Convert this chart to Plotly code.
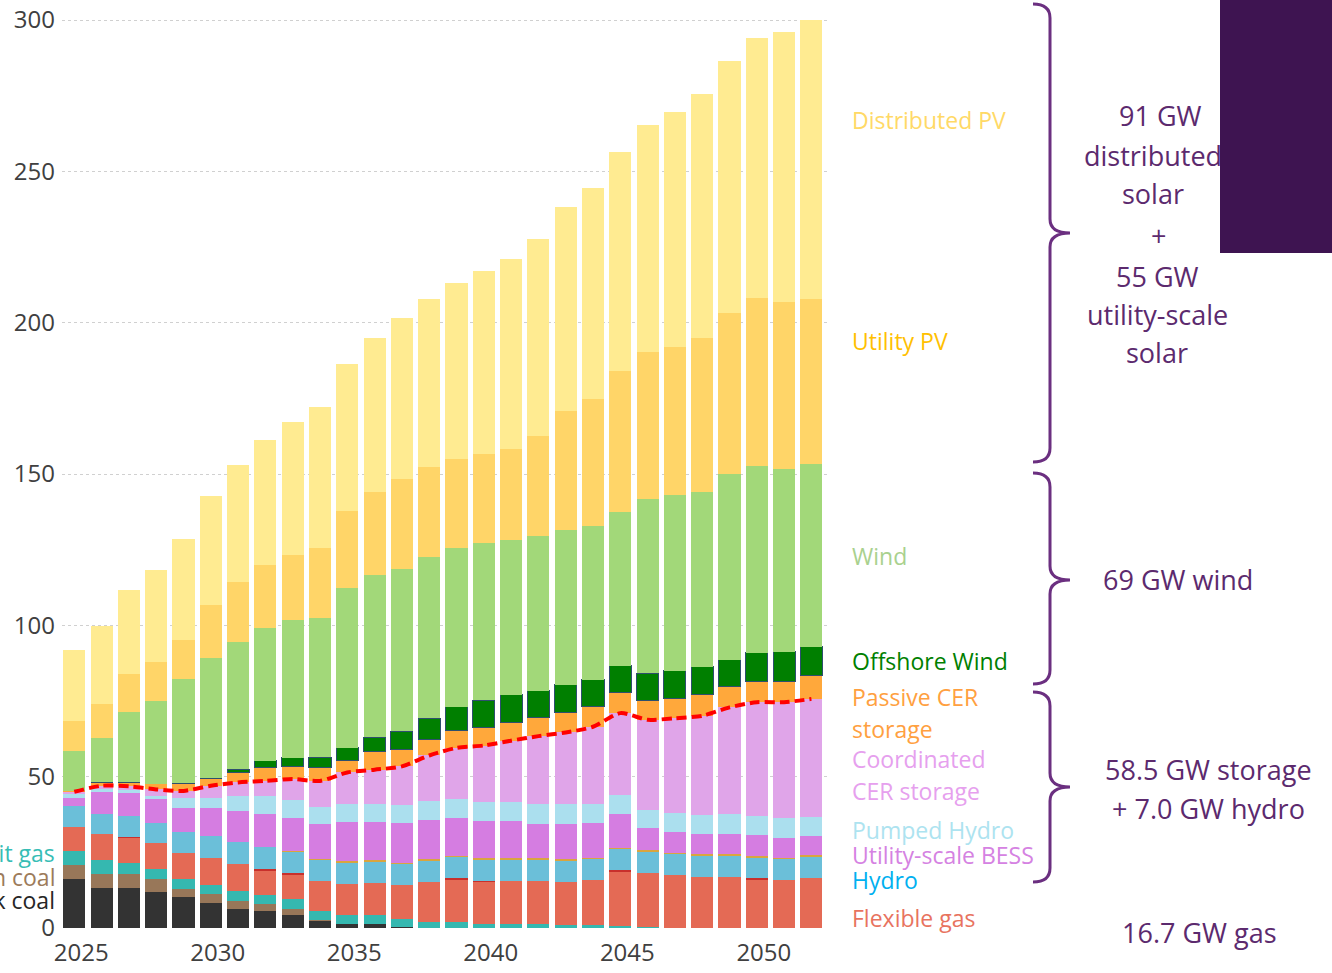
import numpy as np
import plotly.graph_objects as go

# Installed capacity (GW) by technology, 2025-2052
years = list(range(2025, 2053))

black_coal = [16.1, 13.3, 13.2, 11.9, 10.3, 8.1, 6.4, 5.5, 4.2, 2.6, 1.2, 1.2, 0.4, 0, 0, 0, 0, 0, 0, 0, 0, 0, 0, 0, 0, 0, 0, 0]
brown_coal = [4.7, 4.7, 4.8, 4.4, 2.7, 3.0, 2.5, 2.3, 2.2, 0.2, 0, 0, 0, 0, 0, 0, 0, 0, 0, 0, 0, 0, 0, 0, 0, 0, 0, 0]
mid_merit_gas = [4.6, 4.5, 3.4, 3.1, 3.3, 3.1, 3.4, 3.1, 3.3, 2.8, 3.0, 3.0, 2.6, 1.9, 1.9, 1.2, 1.2, 1.2, 0.9, 0.9, 0.8, 0.3, 0, 0, 0, 0, 0, 0]
flexible_gas = [8.1, 8.4, 8.5, 8.6, 8.6, 8.9, 8.7, 8.2, 8.1, 9.9, 10.3, 10.6, 11.2, 13.4, 14.2, 14.0, 14.3, 14.3, 14.3, 14.8, 18.0, 18.0, 17.5, 16.8, 16.8, 16.1, 15.8, 16.6]
peaking_gas = [0, 0, 0.3, 0, 0, 0, 0, 0.3, 0.3, 0, 0, 0, 0, 0, 0.3, 0.3, 0, 0, 0, 0, 0.3, 0, 0, 0, 0, 0.3, 0, 0]
hydro = [6.8, 6.9, 6.9, 6.8, 6.8, 7.2, 7.5, 7.4, 7.1, 7.1, 7.3, 7.3, 7.1, 7.1, 7.1, 7.2, 7.2, 7.2, 7.2, 7.2, 7.1, 7.1, 7.1, 7.2, 7.2, 7.0, 7.1, 7.1]
other = [0, 0, 0, 0, 0, 0, 0, 0, 0.3, 0.3, 0.3, 0.3, 0.3, 0.3, 0.3, 0.3, 0.3, 0.3, 0.3, 0.3, 0.3, 0.3, 0.3, 0.3, 0.3, 0.3, 0.3, 0.3]
utility_bess = [2.8, 7.0, 7.4, 7.7, 7.8, 9.3, 10.0, 11.0, 11.0, 11.4, 12.8, 12.5, 13.0, 13.0, 12.7, 12.4, 12.4, 11.4, 11.7, 11.5, 11.3, 7.2, 6.9, 6.8, 6.8, 7.0, 6.6, 6.4]
pumped_hydro = [1.4, 1.0, 1.0, 1.1, 3.3, 3.4, 5.0, 5.8, 5.9, 5.7, 6.0, 6.0, 6.1, 6.1, 6.0, 6.1, 6.1, 6.6, 6.6, 6.3, 6.1, 6.1, 6.1, 6.1, 6.5, 6.3, 6.5, 6.3]
coordinated_cer = [0.5, 1.2, 1.3, 2.2, 2.5, 4.0, 4.6, 5.0, 6.8, 8.6, 10.5, 11.4, 12.7, 15.2, 17.0, 18.8, 20.4, 22.4, 23.6, 25.5, 27.1, 29.8, 31.4, 32.9, 35.3, 37.6, 38.3, 39.0]
passive_cer = [0.3, 1.1, 1.3, 1.9, 2.5, 2.4, 3.3, 4.5, 4.1, 4.5, 4.1, 5.9, 5.7, 5.4, 5.8, 5.9, 6.0, 6.2, 6.7, 6.6, 6.9, 6.5, 6.6, 7.2, 6.9, 6.7, 7.0, 7.6]
offshore_wind = [0, 0, 0, 0, 0, 0, 1.1, 2.1, 3.0, 3.3, 4.1, 4.8, 5.9, 6.9, 7.8, 9.0, 9.1, 8.8, 9.0, 8.9, 8.8, 8.9, 9.1, 9.1, 8.8, 9.6, 9.7, 9.7]
wind = [13.2, 14.7, 23.2, 27.4, 34.4, 39.8, 41.9, 43.8, 45.4, 46.0, 52.8, 53.5, 53.6, 53.3, 52.6, 52.1, 51.3, 51.2, 51.3, 50.7, 50.9, 57.4, 58.0, 57.5, 61.5, 61.7, 60.2, 60.4]
utility_pv = [9.8, 11.3, 12.6, 12.7, 13.0, 17.4, 19.9, 21.1, 21.7, 23.2, 25.3, 27.6, 29.6, 29.6, 29.2, 29.4, 30.1, 32.9, 39.2, 42.1, 46.4, 48.6, 49.0, 51.2, 53.0, 55.5, 55.2, 54.5]
distributed_pv = [23.4, 25.8, 27.8, 30.5, 33.4, 36.2, 38.8, 41.1, 43.9, 46.4, 48.6, 51.0, 53.3, 55.6, 58.2, 60.5, 62.7, 65.3, 67.4, 69.7, 72.4, 75.0, 77.6, 80.5, 83.4, 86.1, 89.2, 92.1]

tick_years = [2025, 2030, 2035, 2040, 2045, 2050]
y_ticks = [0, 50, 100, 150, 200, 250, 300]

# stack order bottom -> top
series = [
    ("Black coal", black_coal, "#333333"),
    ("Brown coal", brown_coal, "#987759"),
    ("Mid-merit gas", mid_merit_gas, "#35b8b0"),
    ("Flexible gas", flexible_gas, "#e46a55"),
    ("Peaking gas", peaking_gas, "#c8302c"),
    ("Hydro", hydro, "#6bbfd9"),
    ("Other", other, "#d9a53f"),
    ("Utility-scale BESS", utility_bess, "#d57de1"),
    ("Pumped Hydro", pumped_hydro, "#abdfee"),
    ("Coordinated CER storage", coordinated_cer, "#e0a5e9"),
    ("Passive CER storage", passive_cer, "#ffa83b"),
    ("Offshore Wind", offshore_wind, "#007f00"),
    ("Wind", wind, "#a2d879"),
    ("Utility PV", utility_pv, "#ffd568"),
    ("Distributed PV", distributed_pv, "#ffeb91"),
]

W, H = 1332, 973
L, R, T, B = 62, 502, 14, 45
PW, PH = W - L - R, H - T - B


def px(x):
    return (x - L) / PW


def py(y):
    return (H - B - y) / PH


fig = go.Figure()

for name, vals, col in series:
    line = dict(width=0)
    if name == "Offshore Wind":
        line = dict(width=1, color="#2d4f6e")
    fig.add_trace(go.Bar(x=years, y=vals, name=name, marker=dict(color=col, line=line)))

# red dashed line on top of coordinated CER storage
storage_top = np.sum([black_coal, brown_coal, mid_merit_gas, flexible_gas, peaking_gas, hydro, other,
                      utility_bess, pumped_hydro, coordinated_cer], axis=0)
fig.add_trace(go.Scatter(x=years, y=storage_top, mode="lines",
                         line=dict(color="#ff0000", width=4, dash="10px,5px", shape="spline", smoothing=0.7)))

# coloured labels on the right of the bars
labels = [
    ("Distributed PV", 120, "#ffd966"),
    ("Utility PV", 341, "#ffc000"),
    ("Wind", 556, "#a9d18e"),
    ("Offshore Wind", 661, "#008000"),
    ("Passive CER", 697, "#ffa040"),
    ("storage", 729, "#ffa040"),
    ("Coordinated", 759, "#e6a0ee"),
    ("CER storage", 791, "#e6a0ee"),
    ("Pumped Hydro", 830, "#ade3f0"),
    ("Utility-scale BESS", 855, "#d582e2"),
    ("Hydro", 880, "#00b0f0"),
    ("Flexible gas", 918, "#e8735f"),
]
annotations = []
for txt, y, col in labels:
    annotations.append(dict(text=txt, x=px(850), y=py(y), xref="paper", yref="paper", xanchor="left",
                            yanchor="middle", showarrow=False, font=dict(size=23, color=col)))

# labels cut by the left edge
for txt, y, col in [("Mid-merit gas", 853, "#37bdb5"), ("Brown coal", 877, "#9c7b5b"), ("Black coal", 900, "#262626")]:
    annotations.append(dict(text=txt, x=px(57), y=py(y), xref="paper", yref="paper", xanchor="right",
                            yanchor="middle", showarrow=False, font=dict(size=23, color=col)))

# purple summary text
purple = "#5c2a6e"
summary = [
    ("91 GW", 1160, 116), ("distributed", 1153, 155), ("solar", 1153, 193), ("+", 1158, 235),
    ("55 GW", 1157, 276), ("utility-scale", 1157, 314), ("solar", 1157, 353),
    ("69 GW wind", 1178, 579), ("58.5 GW storage", 1208, 769), ("+ 7.0 GW hydro", 1208, 808),
    ("16.7 GW gas", 1199, 933),
]
for txt, x, y in summary:
    annotations.append(dict(text=txt, x=px(x), y=py(y), xref="paper", yref="paper", xanchor="center",
                            yanchor="middle", showarrow=False, font=dict(size=27, color=purple)))

# dark purple block top right (drawn after the text so it covers it)
annotations.append(dict(text=" ", x=px(1220), y=py(0), xref="paper", yref="paper", xanchor="left",
                        yanchor="top", showarrow=False, width=112, height=253, bgcolor="#3e1451",
                        borderpad=0, borderwidth=0))


def brace(top, tip, bottom, xh=1033, xl=1050, xt=1070, r=14):
    pts = (f"M {px(xh)},{py(top)} Q {px(xl)},{py(top)} {px(xl)},{py(top + r)} "
           f"L {px(xl)},{py(tip - r)} Q {px(xl)},{py(tip)} {px(xt)},{py(tip)} "
           f"Q {px(xl)},{py(tip)} {px(xl)},{py(tip + r)} "
           f"L {px(xl)},{py(bottom - r)} Q {px(xl)},{py(bottom)} {px(xh)},{py(bottom)}")
    return dict(type="path", path=pts, xref="paper", yref="paper", line=dict(color="#6b2f80", width=3))


shapes = [brace(4, 233, 462), brace(473, 580, 684), brace(692, 787, 882)]

fig.update_layout(
    width=W, height=H,
    margin=dict(l=L, r=R, t=T, b=B, autoexpand=False),
    barmode="stack", bargap=0.19,
    showlegend=False,
    plot_bgcolor="white", paper_bgcolor="white",
    font=dict(family="Open Sans", color="#404040"),
    annotations=annotations,
    shapes=shapes,
)
fig.update_xaxes(range=[2024.55, 2052.68], tickvals=tick_years, ticktext=[str(t) for t in tick_years],
                 tickfont=dict(size=24, color="#404040"), showgrid=False, zeroline=False, showline=False,
                 ticks="", ticklabelshift=7, ticklabelstandoff=8, automargin=False)
fig.update_yaxes(range=[0, 302], tickvals=y_ticks, tickfont=dict(size=24, color="#404040"),
                 showgrid=True, gridcolor="#d0d0d0", griddash="dot", gridwidth=1, zeroline=False,
                 showline=False, ticks="", ticklabelstandoff=6, automargin=False)

# page without the default body margin so the figure fills the window
fig.write_html("out.html", config={"displayModeBar": False},
               post_script="document.body.style.margin='0';")
